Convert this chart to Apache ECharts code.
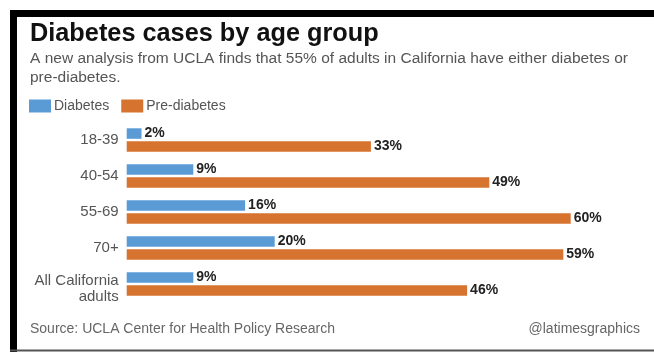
<!DOCTYPE html>
<html><head><meta charset="utf-8">
<script src="https://cdn.jsdelivr.net/npm/echarts@6/dist/echarts.min.js"></script>
<style>html,body{margin:0;padding:0;background:#fff}#c{width:654px;height:352px}</style>
</head><body><div id="c"></div>
<script>
const categories = ['18-39', '40-54', '55-69', '70+', 'All California\nadults'];
const diabetes = [2, 9, 16, 20, 9];
const preDiabetes = [33, 49, 60, 59, 46];
const titleText = 'Diabetes cases by age group';
const subtitleText = 'A new analysis from UCLA finds that 55% of adults in California have either diabetes or\npre-diabetes.';
const sourceText = 'Source: UCLA Center for Health Policy Research';
const creditText = '@latimesgraphics';

const chart = echarts.init(document.getElementById('c'), null, {renderer: 'canvas'});
const FONT = 'Liberation Sans, Arial, sans-serif';
const labelStyle = {show: true, position: 'right', distance: 3, formatter: '{c}%', fontFamily: FONT, fontWeight: 'bold', fontSize: 14, color: '#222'};
const axisRich = {
  a: {fontFamily: FONT, fontSize: 15, color: '#555', lineHeight: 16},
  e: {fontFamily: FONT, fontSize: 2, color: 'rgba(0,0,0,0)', lineHeight: 9}
};
chart.setOption({
  animation: false,
  backgroundColor: '#fff',
  textStyle: {fontFamily: FONT},
  title: [
    {text: titleText, left: 30, top: 22, padding: 0, textStyle: {fontFamily: FONT, fontWeight: 'bold', fontSize: 25.3, color: '#111'}},
    {text: subtitleText, left: 30, top: 49, padding: 0, textStyle: {fontFamily: FONT, fontWeight: 'normal', fontSize: 15.5, color: '#555', lineHeight: 19}},
    {text: sourceText, left: 30, top: 322, padding: 0, textStyle: {fontFamily: FONT, fontWeight: 'normal', fontSize: 14, color: '#666'}},
    {text: creditText, right: 14, top: 322, padding: 0, textStyle: {fontFamily: FONT, fontWeight: 'normal', fontSize: 14, color: '#666'}}
  ],
  legend: {
    left: 29, top: 99, padding: 0, itemWidth: 22, itemHeight: 13, itemGap: 12, icon: 'rect',
    textStyle: {fontFamily: FONT, fontSize: 14, color: '#555', padding: [0, 0, 0, -2]},
    data: ['Diabetes', 'Pre-diabetes']
  },
  grid: {left: 126.7, right: 9.3, top: 122, bottom: 50, containLabel: false},
  xAxis: {type: 'value', min: 0, max: 70, show: false},
  yAxis: {
    type: 'category', inverse: true, data: categories,
    axisLine: {show: false}, axisTick: {show: false}, splitLine: {show: false},
    axisLabel: {
      margin: 8,
      formatter: v => { const p = v.split('\n'); return p.length > 1 ? '{e| }\n' + p.map(s => '{a|' + s + '}').join('\n') : '{a|' + v + '}'; },
      rich: axisRich
    }
  },
  series: [
    {name: 'Diabetes', type: 'bar', data: diabetes, barWidth: 10.5, barGap: '23%', itemStyle: {color: '#5b9bd5'}, label: labelStyle},
    {name: 'Pre-diabetes', type: 'bar', data: preDiabetes, barWidth: 10.5, barGap: '23%', itemStyle: {color: '#d5732f'}, label: labelStyle}
  ],
  graphic: [
    {type: 'rect', shape: {x: 10, y: 10, width: 644, height: 7}, style: {fill: '#000'}, silent: true},
    {type: 'rect', shape: {x: 10, y: 10, width: 7, height: 342}, style: {fill: '#000'}, silent: true},
    {type: 'rect', shape: {x: 10, y: 349.5, width: 644, height: 2}, style: {fill: '#555'}, silent: true}
  ]
});
</script></body></html>
